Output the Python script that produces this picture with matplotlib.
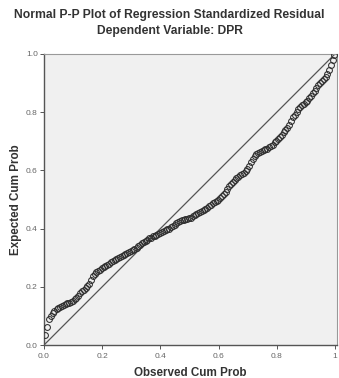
import numpy as np
import matplotlib
matplotlib.use("Agg")
import matplotlib.pyplot as plt

plt.rcParams['font.family'] = ['Liberation Sans', 'DejaVu Sans']

# observed vs expected cumulative probability
observed = [0.005, 0.011, 0.018, 0.024, 0.030, 0.036, 0.043, 0.049, 0.055, 0.061,
            0.068, 0.074, 0.080, 0.086, 0.093, 0.099, 0.105, 0.111, 0.118, 0.124,
            0.130, 0.136, 0.143, 0.149, 0.155, 0.161, 0.168, 0.174, 0.180, 0.186,
            0.193, 0.199, 0.205, 0.211, 0.218, 0.224, 0.230, 0.236, 0.243, 0.249,
            0.255, 0.261, 0.268, 0.274, 0.280, 0.286, 0.293, 0.299, 0.305, 0.311,
            0.318, 0.324, 0.330, 0.336, 0.343, 0.349, 0.355, 0.361, 0.368, 0.374,
            0.380, 0.386, 0.393, 0.399, 0.405, 0.411, 0.418, 0.424, 0.430, 0.436,
            0.443, 0.449, 0.455, 0.461, 0.468, 0.474, 0.480, 0.486, 0.493, 0.499,
            0.505, 0.511, 0.518, 0.524, 0.530, 0.536, 0.543, 0.549, 0.555, 0.561,
            0.568, 0.574, 0.580, 0.586, 0.593, 0.599, 0.605, 0.611, 0.618, 0.624,
            0.630, 0.636, 0.643, 0.649, 0.655, 0.661, 0.668, 0.674, 0.680, 0.686,
            0.693, 0.699, 0.705, 0.711, 0.718, 0.724, 0.730, 0.736, 0.743, 0.749,
            0.755, 0.761, 0.768, 0.774, 0.780, 0.786, 0.793, 0.799, 0.805, 0.811,
            0.818, 0.824, 0.830, 0.836, 0.843, 0.849, 0.855, 0.861, 0.868, 0.874,
            0.880, 0.886, 0.893, 0.899, 0.905, 0.911, 0.918, 0.924, 0.930, 0.936,
            0.943, 0.949, 0.955, 0.961, 0.968, 0.974, 0.980, 0.986, 0.993, 0.998]
expected = [0.035, 0.062, 0.088, 0.100, 0.110, 0.117, 0.123, 0.127, 0.130, 0.134,
            0.137, 0.140, 0.143, 0.146, 0.148, 0.151, 0.157, 0.162, 0.169, 0.177,
            0.184, 0.190, 0.197, 0.204, 0.210, 0.222, 0.238, 0.245, 0.250, 0.254,
            0.258, 0.263, 0.267, 0.271, 0.275, 0.280, 0.284, 0.288, 0.291, 0.295,
            0.298, 0.302, 0.305, 0.309, 0.312, 0.315, 0.318, 0.322, 0.326, 0.331,
            0.335, 0.340, 0.344, 0.349, 0.353, 0.358, 0.362, 0.366, 0.369, 0.373,
            0.376, 0.379, 0.382, 0.385, 0.388, 0.391, 0.394, 0.397, 0.400, 0.405,
            0.409, 0.414, 0.418, 0.422, 0.425, 0.428, 0.431, 0.432, 0.434, 0.436,
            0.438, 0.442, 0.446, 0.450, 0.454, 0.458, 0.461, 0.465, 0.468, 0.472,
            0.477, 0.482, 0.487, 0.491, 0.496, 0.500, 0.505, 0.512, 0.519, 0.527,
            0.535, 0.545, 0.554, 0.561, 0.568, 0.573, 0.578, 0.583, 0.588, 0.592,
            0.597, 0.605, 0.615, 0.628, 0.640, 0.648, 0.655, 0.659, 0.663, 0.666,
            0.669, 0.672, 0.675, 0.679, 0.683, 0.689, 0.696, 0.702, 0.709, 0.716,
            0.723, 0.731, 0.739, 0.747, 0.757, 0.769, 0.782, 0.792, 0.801, 0.810,
            0.818, 0.824, 0.829, 0.835, 0.840, 0.848, 0.857, 0.865, 0.874, 0.883,
            0.892, 0.900, 0.908, 0.915, 0.922, 0.932, 0.944, 0.961, 0.980, 0.995]
ticks = [0.0, 0.2, 0.4, 0.6, 0.8, 1.0]
xticklabels = ["0.0", "0.2", "0.4", "0.6", "0.8", "1"]
yticklabels = ["0.0", "0.2", "0.4", "0.6", "0.8", "1.0"]

fig = plt.figure(figsize=(3.39, 3.78), dpi=100)
ax = fig.add_axes([44/339, 33/378, 293/339, 291/378])
ax.set_facecolor('#f0f0f0')

ax.plot([0, 1], [0, 1], color='#555555', lw=0.9, zorder=2)
ax.plot(observed, expected, linestyle='none', marker='o', markersize=4.2,
        markerfacecolor='none', markeredgecolor='#2e2e2e', markeredgewidth=0.75, zorder=3)

ax.set_xlim(0, 1.007)
ax.set_ylim(0, 1)
ax.set_xticks(ticks)
ax.set_xticklabels(xticklabels)
ax.set_yticks(ticks)
ax.set_yticklabels(yticklabels)
ax.tick_params(labelsize=6, length=3, width=0.7, colors='#555555', labelcolor='#666666', pad=1.5)
ax.tick_params(axis='x', pad=3)

for side in ['left', 'bottom']:
    ax.spines[side].set_color('#555555')
    ax.spines[side].set_linewidth(1.0)
for side in ['top', 'right']:
    ax.spines[side].set_color('#999999')
    ax.spines[side].set_linewidth(0.8)

ax.set_xlabel("Observed Cum Prob", fontsize=8.4, fontweight='bold', color='#333333', labelpad=5)
ax.set_ylabel("Expected Cum Prob", fontsize=8.4, fontweight='bold', color='#333333', labelpad=3)

fig.text(0.5, 1 - 15/378, "Normal P-P Plot of Regression Standardized Residual",
         ha='center', va='center', fontsize=8.7, fontweight='bold', color='#333333')
fig.text(0.5, 1 - 31/378, "Dependent Variable: DPR",
         ha='center', va='center', fontsize=8.7, fontweight='bold', color='#333333')

fig.savefig("out.png", dpi=100)
